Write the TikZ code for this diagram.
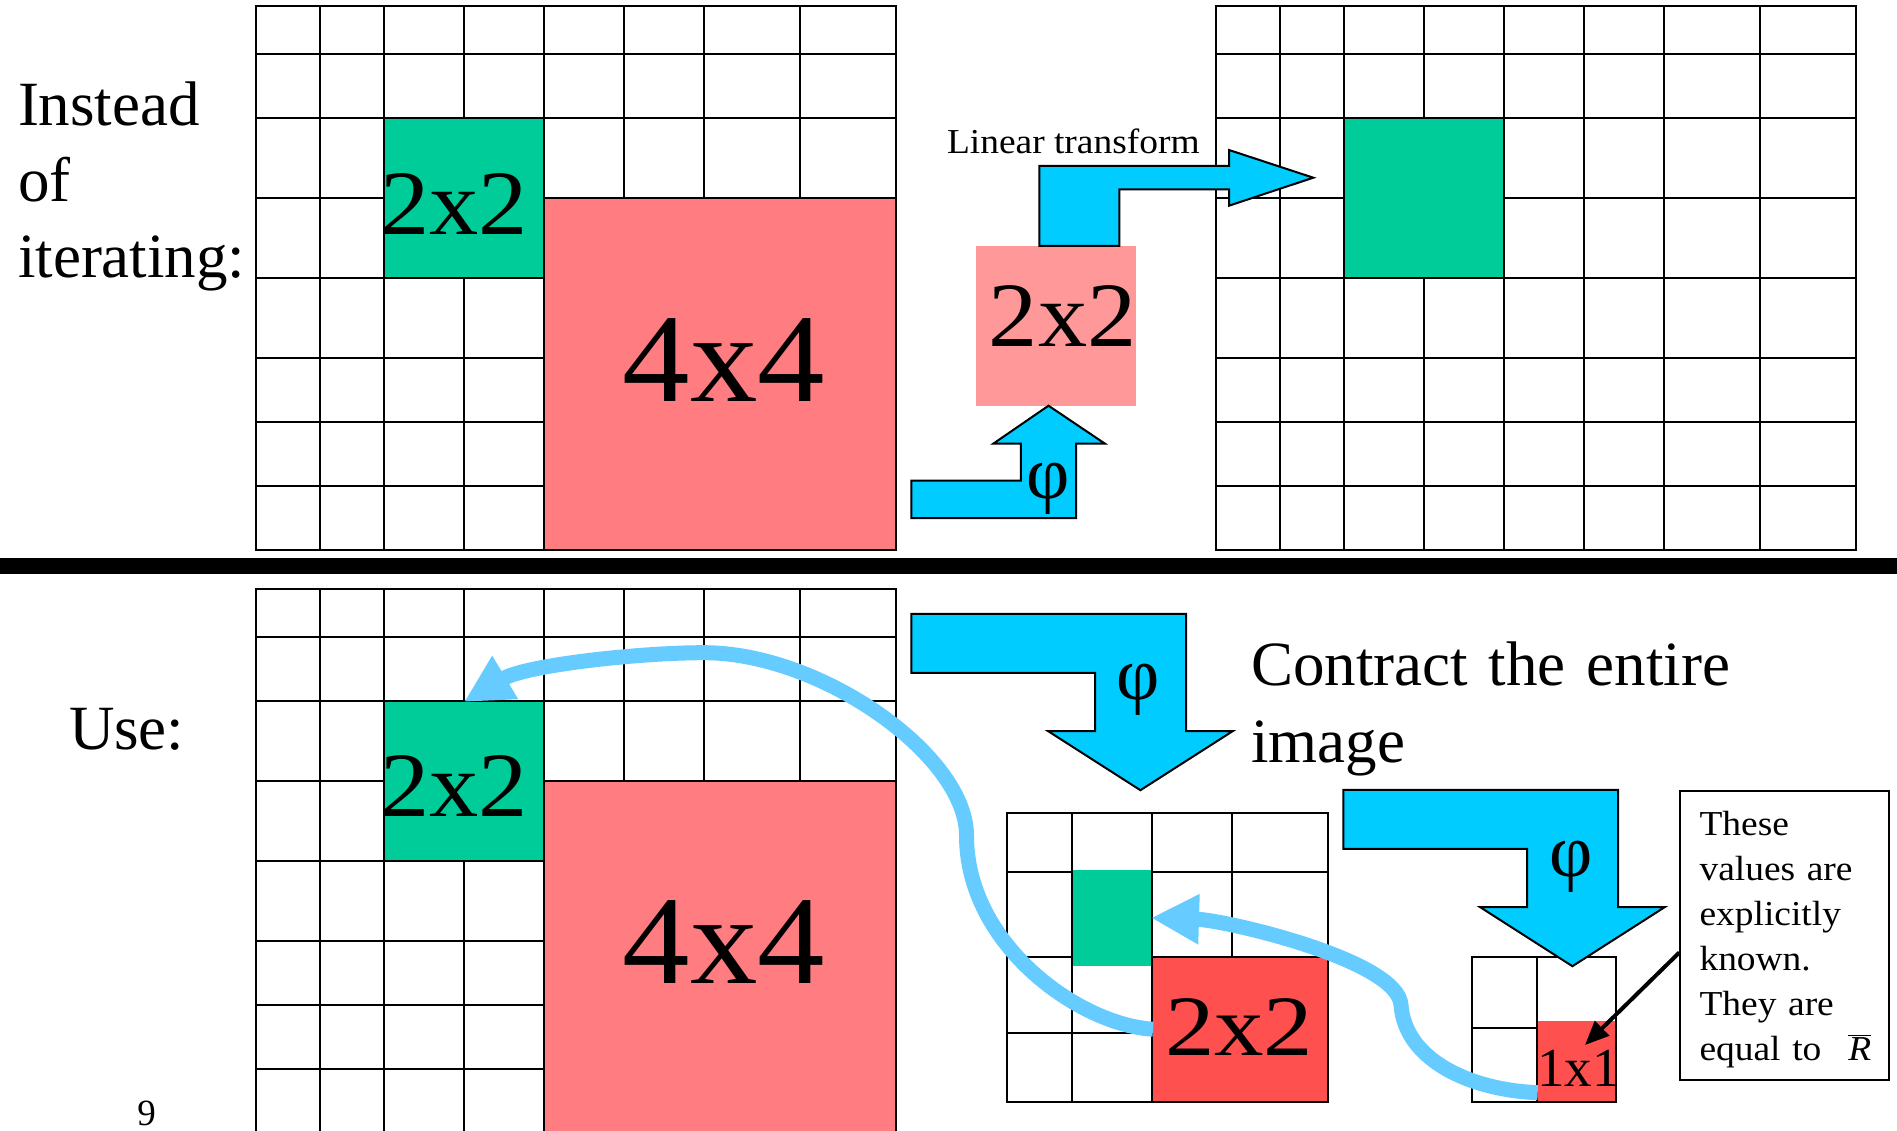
\documentclass[tikz,border=0pt]{standalone}
\usepackage{fontspec}
\setmainfont{Liberation Serif}
\newfontfamily\wideA[FakeStretch=1.07]{Liberation Serif}
\newfontfamily\wideB[FakeStretch=1.15]{Liberation Serif}
\usetikzlibrary{arrows.meta,calc}
\definecolor{cyanA}{HTML}{00CCFF}
\definecolor{curveblue}{HTML}{66CCFF}
\definecolor{greenA}{HTML}{00CC99}
\definecolor{salmonA}{HTML}{FF7C80}
\definecolor{pinkA}{HTML}{FF9999}
\definecolor{redA}{HTML}{FF5050}
\newcommand\cellgrid[6]{%
  \foreach \gx in {#1} \draw[gridline] (\gx,#5) -- (\gx,#6);
  \foreach \gy in {#2} \draw[gridline] (#3,\gy) -- (#4,\gy);}
\tikzset{
  gridline/.style={line width=2pt, draw=black, line cap=rect},
  block/.style={rectangle, inner sep=0pt, outer sep=0pt, anchor=north west, draw=none},
  blockarrow/.style={fill=cyanA, draw=black, line width=2pt, line join=miter},
  curvearrow/.style={draw=curveblue, line width=15pt, -{Triangle[length=48pt,width=47pt]}},
  pointer/.style={draw=black, line width=4pt, -{Triangle[length=24pt,width=20pt]}},
  txt/.style={inner sep=0pt, outer sep=0pt},
  phistyle/.style={txt, font=\fontsize{75pt}{75pt}\selectfont},
  downarrow/.pic={\draw[blockarrow] (0,0) -- (274.7,0) -- (274.7,117.3) -- (321.2,117.3)
     -- (229,176.3) -- (136.8,117.3) -- (183.8,117.3) -- (183.8,59) -- (0,59) -- cycle;}
}
\begin{document}
\begin{tikzpicture}[x=1pt,y=-1pt]
\useasboundingbox (0,0) rectangle (1897,1131);
\fill[white] (0,0) rectangle (1897,1131);
\begin{scope}
\clip (0,0) rectangle (1897,1131);
% grids
\cellgrid{256,320,384,464,544,624,704,800,896}{6,54,118,198,278,358,422,486,550}{256}{896}{6}{550}
\cellgrid{1216,1280,1344,1424,1504,1584,1664,1760,1856}{6,54,118,198,278,358,422,486,550}{1216}{1856}{6}{550}
\cellgrid{256,320,384,464,544,624,704,800,896}{589,637,701,781,861,941,1005,1069,1133}{256}{896}{589}{1133}
\cellgrid{1007.3,1071.7,1152,1232,1328.3}{813.3,871.7,956.7,1033.3,1101.7}{1007.3}{1328.3}{813.3}{1101.7}
\cellgrid{1471.7,1536.7,1616}{957.3,1028.3,1101.7}{1471.7}{1616}{957.3}{1101.7}
% coloured blocks
\node[block, fill=greenA, minimum width=158pt, minimum height=158pt] (gA) at (385,119) {};
\node[block, fill=salmonA, minimum width=350pt, minimum height=350pt] (rA) at (545,199) {};
\node[block, fill=greenA, minimum width=158pt, minimum height=158pt] (gR) at (1345,119) {};
\node[block, fill=pinkA, minimum width=160pt, minimum height=160pt] (pk) at (976,246) {};
\node[block, fill=greenA, minimum width=158pt, minimum height=158pt] (gB) at (385,702) {};
\node[block, fill=salmonA, minimum width=350pt, minimum height=350pt] (rB) at (545,782) {};
\node[block, fill=greenA, minimum width=78.3pt, minimum height=95.7pt] (gM) at (1072.7,870) {};
\node[block, fill=redA, minimum width=174.3pt, minimum height=143pt] (rM) at (1153,957.7) {};
\node[block, fill=redA, minimum width=77.3pt, minimum height=80pt] (r1) at (1537.7,1020.7) {};
% separator bar
\fill[black] (0,558) rectangle (1897,573.5);
% block arrows
\draw[blockarrow] (1039.3,246) -- (1039.3,166) -- (1229,166) -- (1229,150) -- (1313.3,177.7)
  -- (1229,205.7) -- (1229,189.3) -- (1119.3,189.3) -- (1119.3,246) -- cycle;
\draw[blockarrow] (911.4,480.6) -- (1020.8,480.6) -- (1020.8,443.5) -- (993.5,443.5) -- (1048.5,405.7)
  -- (1104.7,443.5) -- (1076.1,443.5) -- (1076.1,518) -- (911.4,518) -- cycle;
\pic at (911.4,613.9) {downarrow};
\pic at (1343.4,789.9) {downarrow};
% curved arrows
\draw[curvearrow] (rM.west) .. controls (1080,1025) and (966,945) .. (966.5,835)
  .. controls (966,755) and (820,652) .. (703,652.7)
  .. controls (640,652.7) and (526,665) .. (gB.north);
\draw[curvearrow] ($(r1.south west)+(0,-8)$) .. controls (1470,1090) and (1405,1060) .. (1401,1005)
  .. controls (1398,960) and (1225,920) .. (gM.east);
% note box and pointer
\node[draw, line width=2pt, inner sep=0pt, minimum width=209pt, minimum height=289pt, anchor=north west] (note) at (1679.3,790) {};
\node[txt, font=\wideA\fontsize{35pt}{45pt}\selectfont, text width=185pt, align=left, anchor=base west] (notetext) at (1699.5,835)
  {These\\values are\\explicitly\\known.\\They are\\equal to\hspace{27pt}$\overline{\mbox{\itshape R}}$};
\coordinate (ptr) at (1585,1045);
\draw[pointer] ($(note.west)+(0,17)$) -- (ptr);
% texts
\node[txt, font=\fontsize{63pt}{76.3pt}\selectfont, text width=300pt, align=left, anchor=base west] (inst) at (18,125.4) {Instead\\of\\iterating:};
\node[txt, font=\fontsize{63pt}{76.3pt}\selectfont, anchor=base west] (use) at (69,749) {Use:};
\node[txt, font=\fontsize{63pt}{76.4pt}\selectfont, text width=520pt, align=left, anchor=base west] (contract) at (1251,685.6) {Contract the entire\\image};
\node[txt, font=\wideA\fontsize{35pt}{40pt}\selectfont, anchor=base west] (lin) at (947,153.5) {Linear transform};
\node[txt, font=\wideA\fontsize{92pt}{92pt}\selectfont, anchor=base] (tA) at (454.1,234.5) {2x2};
\node[txt, font=\wideA\fontsize{126pt}{126pt}\selectfont, anchor=base] (tB) at (724,401.7) {4x4};
\node[txt, font=\wideA\fontsize{92pt}{92pt}\selectfont, anchor=base] (tC) at (1062.7,346.7) {2x2};
\node[txt, font=\wideA\fontsize{92pt}{92pt}\selectfont, anchor=base] (tD) at (454.1,816.3) {2x2};
\node[txt, font=\wideA\fontsize{126pt}{126pt}\selectfont, anchor=base] (tE) at (724,983.5) {4x4};
\node[txt, font=\wideB\fontsize{86pt}{86pt}\selectfont, anchor=base] (tF) at (1239.2,1055) {2x2};
\node[txt, font=\fontsize{55pt}{55pt}\selectfont, anchor=base] (tG) at (1578.7,1086.7) {1x1};
\node[phistyle] (phiA) at (1048.5,489) {φ};
\node[phistyle] (phiB) at (1138.4,689.3) {φ};
\node[phistyle] (phiC) at (1570.7,866.7) {φ};
\node[txt, font=\fontsize{37pt}{37pt}\selectfont, anchor=base] (pg) at (146.7,1125) {9};
\end{scope}
\end{tikzpicture}
\end{document}
